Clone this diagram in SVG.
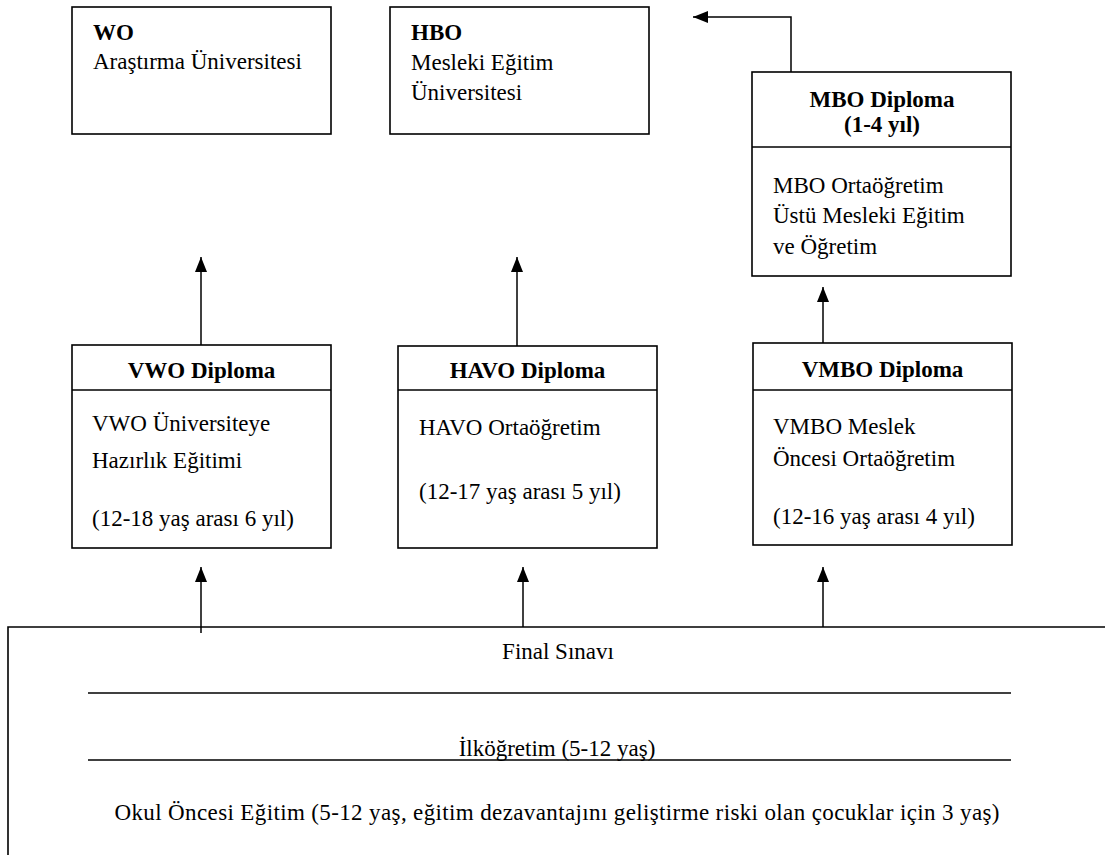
<svg xmlns="http://www.w3.org/2000/svg" width="1105" height="855" viewBox="0 0 1105 855">
<defs>
<marker id="ah" markerUnits="userSpaceOnUse" markerWidth="16" markerHeight="14" refX="15" refY="6" orient="auto">
<path d="M0,0 L15,6 L0,12 Z" fill="#000"/>
</marker>
<style>
.box{fill:#fff;stroke:#000;stroke-width:1.6}
.ln{fill:none;stroke:#000;stroke-width:1.6}
.con{fill:none;stroke:#000;stroke-width:1.5;marker-end:url(#ah)}
.t{font-size:23px;fill:#000}
.b{font-weight:bold}
.c{text-anchor:middle}
</style>
</defs>
<rect width="1105" height="855" fill="#fff"/>

<g id="node-wo" class="t" font-family="Liberation Serif, Tinos, Noto Serif, FreeSerif, Nimbus Roman, Times, DejaVu Serif, serif">
<rect class="box" x="72" y="7" width="259" height="127"/>
<text class="b" x="93" y="40">WO</text>
<text x="93" y="69">Araştırma Üniversitesi</text>
</g>

<g id="node-hbo" class="t" font-family="Liberation Serif, Tinos, Noto Serif, FreeSerif, Nimbus Roman, Times, DejaVu Serif, serif">
<rect class="box" x="390" y="7" width="259" height="127"/>
<text class="b" x="411" y="40">HBO</text>
<text x="411" y="70">Mesleki Eğitim</text>
<text x="411" y="100">Üniversitesi</text>
</g>

<g id="node-mbo" class="t" font-family="Liberation Serif, Tinos, Noto Serif, FreeSerif, Nimbus Roman, Times, DejaVu Serif, serif">
<rect class="box" x="752" y="72" width="259" height="204"/>
<line class="ln" x1="752" y1="147" x2="1011" y2="147"/>
<text class="b c" x="882" y="107">MBO Diploma</text>
<text class="b c" x="882" y="132">(1-4 yıl)</text>
<text x="773" y="193">MBO Ortaöğretim</text>
<text x="773" y="223">Üstü Mesleki Eğitim</text>
<text x="773" y="254">ve Öğretim</text>
</g>

<g id="node-vwo" class="t" font-family="Liberation Serif, Tinos, Noto Serif, FreeSerif, Nimbus Roman, Times, DejaVu Serif, serif">
<rect class="box" x="72" y="345" width="259" height="203"/>
<line class="ln" x1="72" y1="390" x2="331" y2="390"/>
<text class="b c" x="201.5" y="378">VWO Diploma</text>
<text x="92" y="431">VWO Üniversiteye</text>
<text x="92" y="468">Hazırlık Eğitimi</text>
<text x="92" y="526">(12-18 yaş arası 6 yıl)</text>
</g>

<g id="node-havo" class="t" font-family="Liberation Serif, Tinos, Noto Serif, FreeSerif, Nimbus Roman, Times, DejaVu Serif, serif">
<rect class="box" x="398" y="346" width="259" height="202"/>
<line class="ln" x1="398" y1="390" x2="657" y2="390"/>
<text class="b c" x="527.5" y="378">HAVO Diploma</text>
<text x="419" y="435">HAVO Ortaöğretim</text>
<text x="419" y="499">(12-17 yaş arası 5 yıl)</text>
</g>

<g id="node-vmbo" class="t" font-family="Liberation Serif, Tinos, Noto Serif, FreeSerif, Nimbus Roman, Times, DejaVu Serif, serif">
<rect class="box" x="753" y="343" width="259" height="202"/>
<line class="ln" x1="753" y1="390" x2="1012" y2="390"/>
<text class="b c" x="882.5" y="377">VMBO Diploma</text>
<text x="773" y="434">VMBO Meslek</text>
<text x="773" y="466">Öncesi Ortaöğretim</text>
<text x="773" y="524">(12-16 yaş arası 4 yıl)</text>
</g>

<g id="node-base" class="t" font-family="Liberation Serif, Tinos, Noto Serif, FreeSerif, Nimbus Roman, Times, DejaVu Serif, serif">
<path class="ln" d="M1105,627 H8 V855"/>
<line class="ln" x1="88" y1="693" x2="1011" y2="693"/>
<line class="ln" x1="88" y1="760" x2="1011" y2="760"/>
<text class="c" x="558" y="659">Final Sınavı</text>
<text class="c" x="557" y="756">İlköğretim (5-12 yaş)</text>
<text class="c" x="557" y="820" textLength="885" lengthAdjust="spacing">Okul Öncesi Eğitim (5-12 yaş, eğitim dezavantajını geliştirme riski olan çocuklar için 3 yaş)</text>
</g>

<g id="connectors">
<path class="con" d="M791,72 V17 H693"/>
<path class="con" d="M201,345 V257"/>
<path class="con" d="M517,346 V257"/>
<path class="con" d="M823,343 V287"/>
<path class="con" d="M201,633 V567"/>
<path class="con" d="M523,627 V567"/>
<path class="con" d="M823,627 V567"/>
</g>
</svg>
